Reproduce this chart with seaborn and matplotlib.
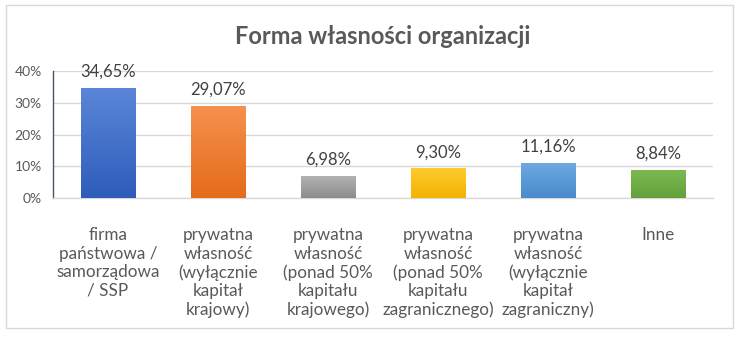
import numpy as np
import pandas as pd
import matplotlib
matplotlib.use("Agg")
import matplotlib.pyplot as plt
import matplotlib.colors as mcolors
from matplotlib.patches import Rectangle
import seaborn as sns

categories = [
    "firma\npaństwowa /\nsamorządowa\n/ SSP",
    "prywatna\nwłasność\n(wyłącznie\nkapitał\nkrajowy)",
    "prywatna\nwłasność\n(ponad 50%\nkapitału\nkrajowego)",
    "prywatna\nwłasność\n(ponad 50%\nkapitału\nzagranicznego)",
    "prywatna\nwłasność\n(wyłącznie\nkapitał\nzagraniczny)",
    "Inne",
]
values = [34.65, 29.07, 6.98, 9.30, 11.16, 8.84]
colors_top = ["#5b86d8", "#f5924f", "#b4b4b4", "#ffcb2e", "#6eaae3", "#7dba52"]
colors_bot = ["#2e5cba", "#e56b1a", "#8c8c8c", "#f2b300", "#4a8bcc", "#62a03b"]
title = "Forma własności organizacji"

sns.set_theme(style="white")
plt.rcParams["font.family"] = ["Lato", "DejaVu Sans"]

fig = plt.figure(figsize=(7.41, 3.5), dpi=100)
ax = fig.add_axes([53 / 741, 1 - 198 / 350, 660 / 741, 127 / 350])

df = pd.DataFrame({"cat": categories, "val": values})
sns.barplot(data=df, x="cat", y="val", ax=ax, width=0.5, color="#4472c4",
            saturation=1, zorder=3)

ax.set_ylim(0, 40)
ax.set_xlim(-0.5, len(categories) - 0.5)
ax.set_yticks([0, 10, 20, 30, 40])
ax.set_yticklabels([f"{t}%" for t in [0, 10, 20, 30, 40]])
ax.yaxis.grid(True, color="#d9d9d9", linewidth=1, zorder=0)
ax.set_axisbelow(True)
for s in ["top", "right"]:
    ax.spines[s].set_visible(False)
ax.spines["left"].set_color("#44546a")
ax.spines["left"].set_linewidth(1)
ax.spines["bottom"].set_color("#d9d9d9")
ax.spines["bottom"].set_linewidth(1)
ax.set_xlabel("")
ax.set_ylabel("")
ax.tick_params(axis="y", length=0, pad=8, labelsize=10, labelcolor="#595959")
ax.tick_params(axis="x", length=0, pad=21, labelsize=12.3, labelcolor="#595959")
for lab in ax.get_xticklabels():
    lab.set_linespacing(1.19)
    lab.set_va("top")

# gradient fills clipped to each bar
for i, p in enumerate(ax.patches):
    x0, y0 = p.get_x(), p.get_y()
    w, h = p.get_width(), p.get_height()
    cmap = mcolors.LinearSegmentedColormap.from_list(
        "g", [colors_bot[i], colors_top[i]])
    grad = np.linspace(0, 1, 256).reshape(-1, 1)
    im = ax.imshow(grad, extent=[x0, x0 + w, y0, y0 + h], origin="lower",
                   aspect="auto", cmap=cmap, zorder=3.5)
    im.set_clip_path(p)
    p.set_edgecolor("none")

ax.set_xlim(-0.5, len(categories) - 0.5)
ax.set_ylim(0, 40)

for i, v in enumerate(values):
    ax.annotate(f"{v:.2f}".replace(".", ",") + "%", (i, v),
                xytext=(0, 6), textcoords="offset points",
                ha="center", va="bottom", fontsize=12, color="#404040",
                zorder=5)

fig.text(383 / 741, 1 - 36 / 350, title, ha="center", va="center",
         fontsize=17, fontweight="bold", color="#595959")

border = Rectangle((6 / 741, 1 - 328 / 350), 727 / 741, 323 / 350,
                   transform=fig.transFigure, fill=False,
                   edgecolor="#d9d9d9", linewidth=1)
fig.patches.append(border)

fig.savefig("out.png", dpi=100)
